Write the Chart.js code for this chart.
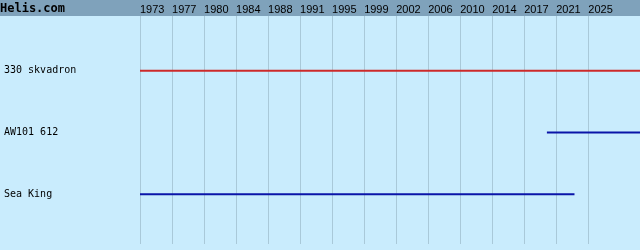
<!DOCTYPE html>
<html>
<head>
<meta charset="utf-8">
<script src="https://cdn.jsdelivr.net/npm/chart.js@4"></script>
<style>
  html, body { margin: 0; padding: 0; background: #c9ecfd; }
  #wrap { width: 640px; height: 250px; }
</style>
</head>
<body>
<div id="wrap"><canvas id="timeline" width="640" height="250"></canvas></div>
<script>
// Rows (top to bottom)
const rowLabels = ["330 skvadron", "AW101 612", "Sea King"];
const rowStart = [1973, 2020.2, 1973];
const rowEnd = [2031, 2031, 2023.4];
const rowColors = ["#cc2a2a", "#0a14a8", "#0a14a8"];

// Header year labels (evenly spaced grid)
const yearLabels = ["1973", "1977", "1980", "1984", "1988", "1991", "1995", "1999",
  "2002", "2006", "2010", "2014", "2017", "2021", "2025"];
const X_MIN = 1973;
const X_MAX = 2031;
const X_STEP = 52 / 14;

const siteName = "Helis.com";

/* =========================
   BACKGROUND + HEADER
========================= */

const headerPlugin = {
  id: "header",
  beforeDraw(chart) {
    const ctx = chart.ctx;
    ctx.save();
    ctx.fillStyle = "#c9ecfd";
    ctx.fillRect(0, 0, chart.width, chart.height);
    ctx.fillStyle = "#7fa2bb";
    ctx.fillRect(0, 0, chart.width, 16);
    ctx.restore();
  },
  afterDraw(chart) {
    const ctx = chart.ctx;
    ctx.save();
    ctx.fillStyle = "#000";
    ctx.font = "bold 12px 'DejaVu Sans Mono', monospace";
    ctx.textBaseline = "alphabetic";
    ctx.fillText(siteName, 0, 12);
    ctx.restore();
  },
};

const datasets = rowLabels.map((label, i) => ({
  label: label,
  data: [
    { x: rowStart[i], y: i },
    { x: rowEnd[i], y: i },
  ],
  borderColor: rowColors[i],
  borderWidth: 2,
  pointRadius: 0,
  borderCapStyle: "butt",
}));

new Chart(document.getElementById("timeline"), {
  type: "line",
  data: { datasets },
  plugins: [headerPlugin],
  options: {
    responsive: false,
    animation: false,
    layout: { padding: { left: 4, top: 0, right: 0, bottom: 6 } },
    plugins: {
      legend: { display: false },
      tooltip: { enabled: false },
    },
    scales: {
      x: {
        type: "linear",
        position: "top",
        min: X_MIN,
        max: X_MAX,
        afterBuildTicks: (scale) => {
          scale.ticks = yearLabels.map((_, i) => ({ value: X_MIN + i * X_STEP }));
        },
        afterFit: (scale) => {
          scale.height = 16;
          scale.paddingLeft = 0;
          scale.paddingRight = 0;
        },
        grid: { color: "#a9c9d9", lineWidth: 1, drawTicks: false },
        border: { display: false },
        ticks: {
          autoSkip: false,
          maxRotation: 0,
          align: "start",
          padding: -1,
          color: "#000",
          font: { family: "'Liberation Sans', Arial, sans-serif", size: 11 },
          callback: (value, index) => yearLabels[index],
        },
      },
      y: {
        type: "linear",
        reverse: true,
        min: -0.887,
        max: 2.806,
        afterBuildTicks: (scale) => {
          scale.ticks = rowLabels.map((_, i) => ({ value: i }));
        },
        afterFit: (scale) => {
          scale.width = 136;
          scale.paddingTop = 0;
          scale.paddingBottom = 0;
        },
        grid: { display: false },
        border: { display: false },
        ticks: {
          crossAlign: "far",
          color: "#000",
          font: { family: "'DejaVu Sans Mono', monospace", size: 10 },
          callback: (value, index) => rowLabels[index],
        },
      },
    },
  },
});
</script>
</body>
</html>
